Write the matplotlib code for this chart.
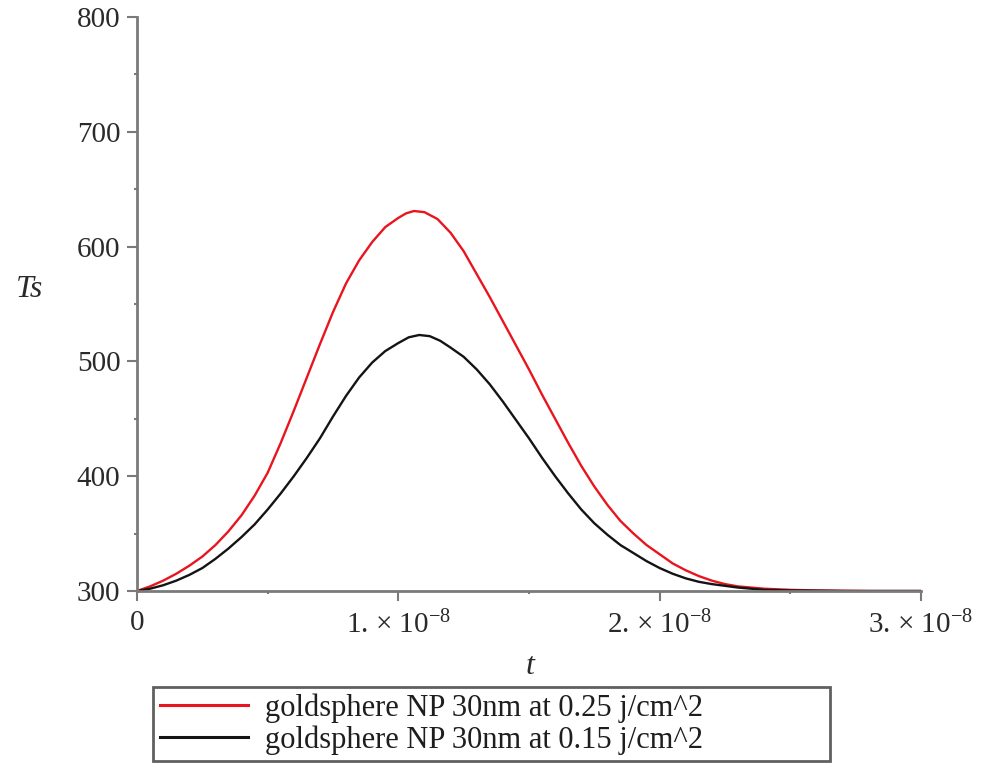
import numpy as np
import matplotlib
matplotlib.use('Agg')
from matplotlib import pyplot as plt
from matplotlib.lines import Line2D

# t en unites de 1e-8 s
t_red = [0.0, 0.05, 0.1, 0.15, 0.2, 0.25, 0.3, 0.35, 0.4, 0.45, 0.5, 0.55, 0.6, 0.65,
         0.7, 0.75, 0.8, 0.85, 0.9, 0.95, 1.0, 1.03, 1.06, 1.1, 1.15, 1.2, 1.25, 1.3,
         1.35, 1.4, 1.45, 1.5, 1.55, 1.6, 1.65, 1.7, 1.75, 1.8, 1.85, 1.9, 1.95, 2.0,
         2.05, 2.1, 2.15, 2.2, 2.25, 2.3, 2.4, 2.5, 2.6, 2.8, 3.0]
Ts_red = [300, 304, 309, 315, 322, 330, 340, 352, 366, 383, 403, 429, 457, 486,
          515, 543, 568, 588, 604, 617, 625, 629, 631, 630, 624, 612, 596, 576,
          556, 535, 514, 493, 471, 450, 429, 409, 391, 375, 361, 350, 340, 332,
          324, 318, 313, 309, 306, 304, 302, 301, 300.5, 300, 300]

t_black = [0.0, 0.05, 0.1, 0.15, 0.2, 0.25, 0.3, 0.35, 0.4, 0.45, 0.5, 0.55, 0.6, 0.65,
           0.7, 0.75, 0.8, 0.85, 0.9, 0.95, 1.0, 1.04, 1.08, 1.12, 1.16, 1.2, 1.25, 1.3,
           1.35, 1.4, 1.45, 1.5, 1.55, 1.6, 1.65, 1.7, 1.75, 1.8, 1.85, 1.9, 1.95, 2.0,
           2.05, 2.1, 2.15, 2.2, 2.3, 2.4, 2.5, 2.7, 3.0]
Ts_black = [300, 302, 305, 309, 314, 320, 328, 337, 347, 358, 371, 385, 400, 416,
            433, 452, 470, 486, 499, 509, 516, 521, 523, 522, 518, 512, 504, 493,
            480, 465, 449, 433, 416, 400, 385, 371, 359, 349, 340, 333, 326, 320,
            315, 311, 308, 306, 303, 301, 300.5, 300, 300]

labels = ['goldsphere NP 30nm at 0.25 j/cm^2', 'goldsphere NP 30nm at 0.15 j/cm^2']
xticks = [0, 1, 2, 3]
xticklabels = ['0', '1. \u00d7 10$^{-8}$', '2. \u00d7 10$^{-8}$', '3. \u00d7 10$^{-8}$']
yticks = [300, 400, 500, 600, 700, 800]

plt.rcParams['font.family'] = 'Liberation Serif'
plt.rcParams['mathtext.fontset'] = 'custom'
plt.rcParams['mathtext.rm'] = 'Liberation Serif'
plt.rcParams['mathtext.it'] = 'Liberation Serif:italic'

W, H = 996, 764
fig = plt.figure(figsize=(W/100, H/100), dpi=100)
ax = fig.add_axes([137/W, 173/H, 784/W, 574/H])

c_red = '#e8151f'
c_black = '#141414'
ax.plot(t_red, Ts_red, color=c_red, lw=1.7)
ax.plot(t_black, Ts_black, color=c_black, lw=1.7)

ax.set_xlim(0, 3)
ax.set_ylim(300, 800)
for s in ['top', 'right']:
    ax.spines[s].set_visible(False)
for s in ['left', 'bottom']:
    ax.spines[s].set_color('#7a7a7a')
    ax.spines[s].set_linewidth(2)

ax.set_xticks(xticks)
ax.set_xticklabels(xticklabels)
ax.set_xticks([0.5, 1.5, 2.5], minor=True)
ax.set_yticks(yticks)
ax.set_yticks([350, 450, 550, 650, 750], minor=True)
ax.tick_params(which='major', direction='out', length=7, width=1.5, color='#7a7a7a',
               labelsize=21, labelcolor='#2a2a2a')
ax.tick_params(which='minor', direction='out', length=2.5, width=1.5, color='#7a7a7a')
ax.tick_params(axis='y', pad=5)
ax.tick_params(axis='x', pad=7)

ax.set_ylabel('Ts', rotation=0, fontsize=23, style='italic', color='#2a2a2a')
ax.yaxis.set_label_coords(-0.137, 0.5)
ax.set_xlabel('t', fontsize=23, style='italic', color='#2a2a2a')
ax.xaxis.set_label_coords(0.501, -0.107)

handles = [Line2D([], [], color=c_red, lw=2.2), Line2D([], [], color=c_black, lw=2.2)]
leg = fig.legend(handles, labels, loc='center', mode='expand',
                 bbox_to_anchor=(153/W, 4/H, 677/W, 72/H), borderaxespad=0,
                 fontsize=22, handlelength=2.9, handletextpad=0.55, labelspacing=0.08,
                 borderpad=0.22, fancybox=False, framealpha=1)
leg.get_frame().set_edgecolor('#606060')
leg.get_frame().set_linewidth(2)
for txt in leg.get_texts():
    txt.set_color('#1e1e1e')

fig.savefig('out.png', dpi=100)
